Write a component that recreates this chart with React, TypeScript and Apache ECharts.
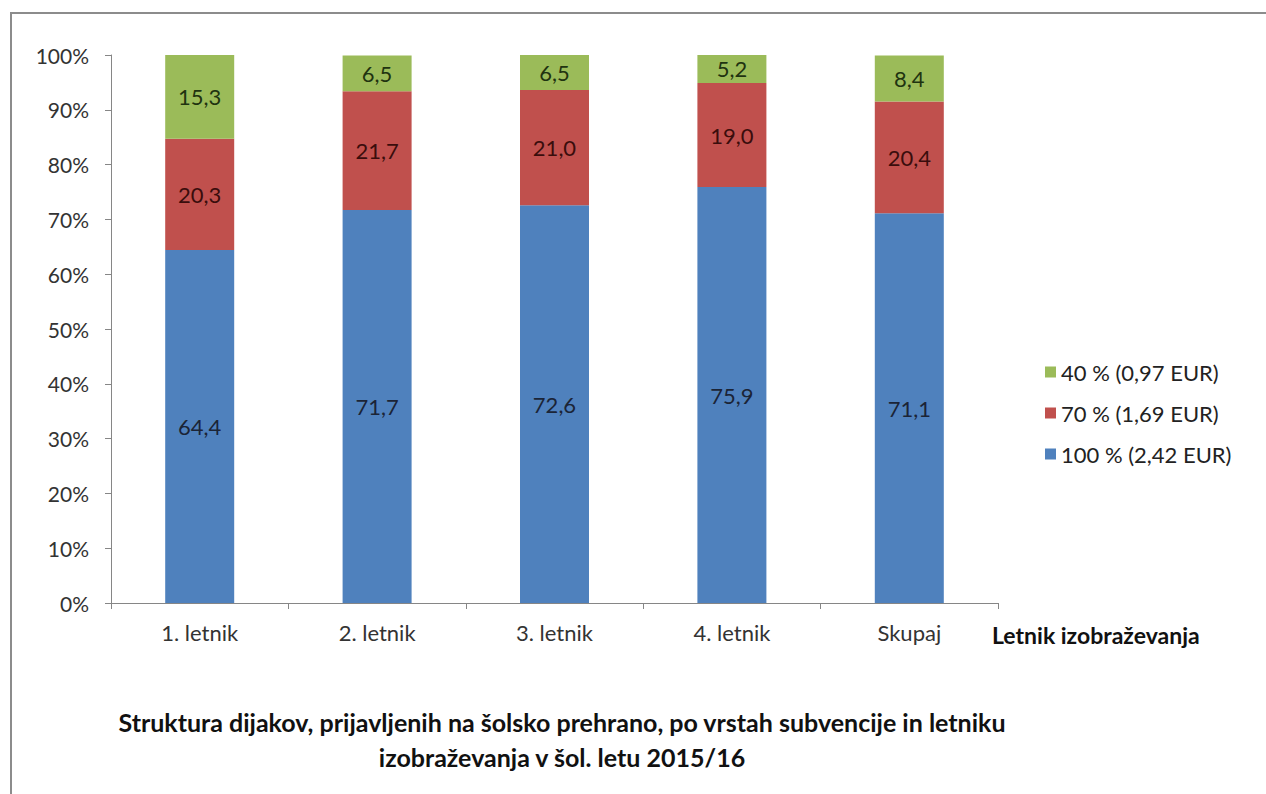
import React, { useEffect, useRef } from "react";
import * as echarts from "echarts";

const categories = ["1. letnik", "2. letnik", "3. letnik", "4. letnik", "Skupaj"];
const seriesNames = ["100 % (2,42 EUR)", "70 % (1,69 EUR)", "40 % (0,97 EUR)"];
const full = [64.4, 71.7, 72.6, 75.9, 71.1];
const seventy = [20.3, 21.7, 21.0, 19.0, 20.4];
const forty = [15.3, 6.5, 6.5, 5.2, 8.4];
const yTicks = [0, 10, 20, 30, 40, 50, 60, 70, 80, 90, 100];

const colors = ["#4f81bd", "#c0504d", "#9bbb59"];
const labelColors = ["#1b2436", "#3a0d0c", "#1f3310"];
const FONT = "Lato, 'Open Sans', sans-serif";

export default function App() {
  const ref = useRef<HTMLDivElement>(null);
  useEffect(() => {
    if (!ref.current) return;
    const chart = echarts.init(ref.current, null, { renderer: "svg" });
    const data = [full, seventy, forty];
    chart.setOption({
      animation: false,
      backgroundColor: "#ffffff",
      textStyle: { fontFamily: FONT },
      grid: { left: 111, right: 268, top: 55, bottom: 191, containLabel: false },
      legend: {
        orient: "vertical",
        left: 1040,
        top: 356,
        itemGap: 19,
        itemWidth: 11,
        itemHeight: 11,
        icon: "rect",
        data: [seriesNames[2], seriesNames[1], seriesNames[0]],
        textStyle: { fontFamily: FONT, fontSize: 22, color: "#222" },
      },
      xAxis: {
        type: "category",
        data: categories,
        boundaryGap: true,
        axisLine: { lineStyle: { color: "#868686", width: 1 } },
        axisTick: { show: true, length: 6, lineStyle: { color: "#868686" } },
        axisLabel: { fontFamily: FONT, fontSize: 22, color: "#333", margin: 18 },
      },
      yAxis: {
        type: "value",
        min: 0,
        max: 100,
        interval: 10,
        axisLine: { show: true, lineStyle: { color: "#868686", width: 1 } },
        axisTick: { show: true, length: 6, lineStyle: { color: "#868686" } },
        splitLine: { show: false },
        axisLabel: {
          fontFamily: FONT,
          fontSize: 21,
          color: "#333",
          margin: 22,
          formatter: (v: number) => (yTicks.includes(v) ? v + "%" : ""),
        },
      },
      series: data.map((d, i) => ({
        name: seriesNames[i],
        type: "bar",
        stack: "total",
        barWidth: 69,
        data: d,
        itemStyle: { color: colors[i] },
        label: {
          show: true,
          position: "inside",
          fontFamily: FONT,
          fontSize: 22,
          color: labelColors[i],
          formatter: (p: any) => String(p.value.toFixed(1)).replace(".", ","),
        },
      })),
      graphic: [
        {
          type: "polyline",
          shape: { points: [[1270, 13], [11, 13], [11, 800]] },
          style: { stroke: "#8c8c8c", lineWidth: 2, fill: "none" },
          silent: true,
        },
        {
          type: "text",
          left: 992,
          top: 623,
          style: { text: "Letnik izobraževanja", font: `bold 23px ${FONT}`, fill: "#111" },
        },
        {
          type: "text",
          x: 562,
          y: 704,
          style: {
            text: "Struktura dijakov, prijavljenih na šolsko prehrano, po vrstah subvencije in letniku\nizobraževanja v šol. letu 2015/16",
            font: `bold 25px ${FONT}`,
            fill: "#111",
            align: "center",
            lineHeight: 35,
          },
        },
      ],
    });
    return () => chart.dispose();
  }, []);
  return (
    <div
      ref={ref}
      style={{ position: "fixed", left: 0, top: 0, width: 1266, height: 794 }}
    />
  );
}
